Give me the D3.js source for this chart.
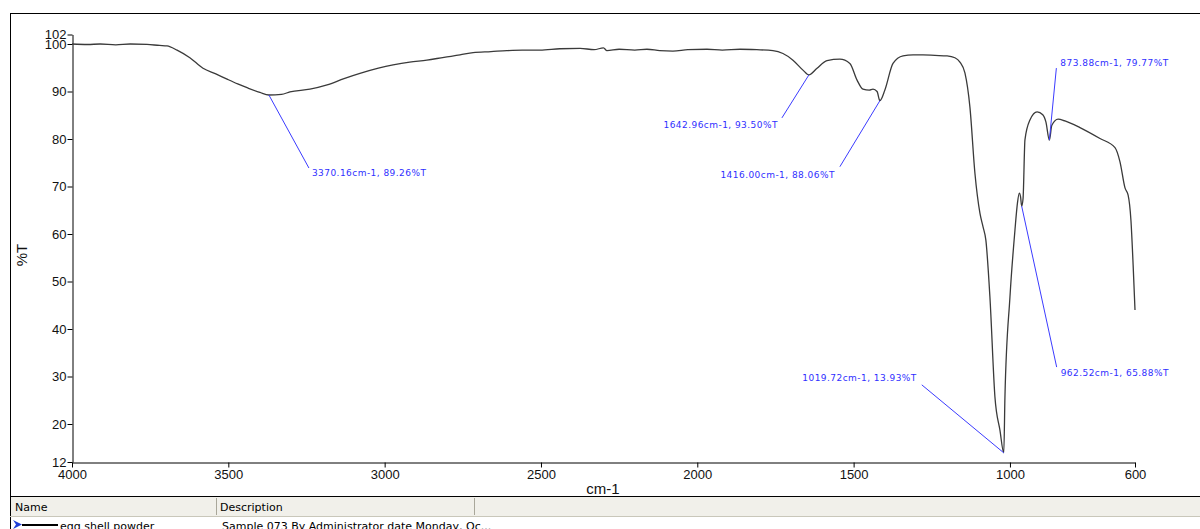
<!DOCTYPE html>
<html>
<head>
<meta charset="utf-8">
<script src="https://cdn.jsdelivr.net/npm/d3@7/dist/d3.min.js"></script>
<style>
  html, body { margin: 0; padding: 0; background: #fff; }
  svg { display: block; }
</style>
</head>
<body>
<svg id="chart" width="1200" height="529"></svg>
<script>
// FTIR spectrum of egg shell powder (% transmittance vs. wavenumber)
const wavenumber = [
  4000, 3950, 3910, 3860, 3814, 3760, 3720, 3696, 3664, 3623, 3581, 3540, 3504, 3470, 3440, 3399,
  3370.16, 3330, 3303, 3239, 3184, 3130, 3079, 3020, 2973, 2920, 2865, 2810, 2759, 2717, 2660,
  2609, 2560, 2503, 2440, 2375, 2330, 2300, 2289, 2250, 2200, 2161, 2120, 2078, 2030, 1969,
  1920, 1863, 1810, 1758, 1726, 1694, 1662, 1642.96, 1617, 1585, 1544, 1512, 1489, 1470,
  1450, 1438, 1425, 1416, 1400, 1374, 1342, 1310, 1278, 1240, 1201, 1176, 1160, 1144, 1128,
  1112, 1096, 1086, 1077, 1064, 1048, 1032, 1019.72, 1016, 1000, 984, 976, 970, 966, 962.52,
  958, 952, 936, 913, 895, 885, 873.88, 866, 846, 824, 776, 712, 664, 648, 632, 622, 613, 606, 600
];
const transmittance = [
  100.0, 99.9, 100.0, 99.8, 100.0, 99.9, 99.7, 99.6, 98.7, 97.1, 94.9, 93.7, 92.6, 91.6, 90.8, 89.8,
  89.26, 89.4, 89.9, 90.5, 91.4, 92.7, 93.8, 94.9, 95.6, 96.2, 96.6, 97.2, 97.7, 98.2, 98.4,
  98.6, 98.7, 98.7, 99.0, 99.1, 98.8, 99.2, 98.6, 98.9, 98.7, 98.9, 98.6, 98.5, 98.8, 98.9,
  98.7, 98.9, 98.8, 98.6, 98.0, 96.6, 94.5, 93.50, 94.9, 96.5, 96.8, 95.9, 92.4, 90.5,
  90.3, 90.5, 90.0, 88.06, 90.3, 95.9, 97.5, 97.7, 97.7, 97.6, 97.5, 97.1, 96.2, 93.9, 86.7,
  72.8, 64.4, 61.5, 58.7, 46.7, 25.7, 18.7, 13.93, 25.7, 46.7, 60.8, 66.5, 68.6, 67.8, 65.88,
  67.5, 79.8, 84.0, 85.7, 85.1, 83.6, 79.77, 82.9, 84.2, 83.8, 82.4, 80.1, 78.2, 75.2, 69.7, 68.2, 62.9, 53.5, 44.0
];

// Labelled peaks
const peakWavenumber = [3370.16, 1642.96, 1416.00, 1019.72, 962.52, 873.88];
const peakTransmittance = [89.26, 93.50, 88.06, 13.93, 65.88, 79.77];

const xTicks = [4000, 3500, 3000, 2500, 2000, 1500, 1000, 600];
const yTicks = [12, 20, 30, 40, 50, 60, 70, 80, 90, 100, 102];

const tableColumns = ["Name", "Description"];
const sampleName = "egg shell powder";
const sampleDescription = "Sample 073 By Administrator date Monday, Oc...";

const svg = d3.select("#chart");
const W = 1200, H = 529;

const x = d3.scaleLinear().domain([4000, 600]).range([72, 1135]);
const y = d3.scaleLinear().domain([12, 102]).range([462, 34.5]);

const axisFont = "'Liberation Sans', Arial, sans-serif";

// outer frame
svg.append("line").attr("x1", 10).attr("x2", W).attr("y1", 13.5).attr("y2", 13.5)
  .attr("stroke", "#000").attr("stroke-width", 1.2);
svg.append("line").attr("x1", 10.5).attr("x2", 10.5).attr("y1", 13).attr("y2", H)
  .attr("stroke", "#000").attr("stroke-width", 1);

// y axis
const yAxis = svg.append("g")
  .attr("transform", "translate(72.5,0)")
  .call(d3.axisLeft(y).tickValues(yTicks).tickFormat(d3.format("d")).tickSize(5).tickSizeOuter(0).tickPadding(1));
yAxis.select(".domain").attr("stroke", "#000");
yAxis.selectAll(".tick line").attr("stroke", "#000");
yAxis.selectAll("text").attr("font-family", axisFont).attr("font-size", 13).attr("fill", "#111");

// x axis
const xAxis = svg.append("g")
  .attr("transform", "translate(0,462.5)")
  .call(d3.axisBottom(x).tickValues(xTicks).tickFormat(d3.format("d")).tickSize(5).tickSizeOuter(0).tickPadding(2));
xAxis.select(".domain").attr("stroke", "#000");
xAxis.selectAll(".tick line").attr("stroke", "#000");
xAxis.selectAll("text").attr("font-family", axisFont).attr("font-size", 13).attr("fill", "#111");

// axis titles
svg.append("text").attr("x", 603).attr("y", 494).attr("text-anchor", "middle")
  .attr("font-family", axisFont).attr("font-size", 15).attr("fill", "#111").text("cm-1");
svg.append("text").attr("transform", "translate(27,255) rotate(-90)").attr("text-anchor", "middle")
  .attr("font-family", axisFont).attr("font-size", 15).attr("fill", "#111").text("%T");

// spectrum
const spectrum = wavenumber.map((w, i) => ({ w, t: transmittance[i] }));
const line = d3.line().x(d => x(d.w)).y(d => y(d.t)).curve(d3.curveMonotoneX);
svg.append("path").datum(spectrum)
  .attr("d", line).attr("fill", "none")
  .attr("stroke", "#3a3a3a").attr("stroke-width", 1.3).attr("stroke-linejoin", "round");

// peak annotations: leader offset and text placement in pixels
const leaderLayout = [
  { lx: 40, ly: 73, anchor: "start", tx: 43, ty: 81 },
  { lx: -27, ly: 43, anchor: "end", tx: -31, ty: 53 },
  { lx: -40, ly: 66, anchor: "end", tx: -45, ty: 77 },
  { lx: -82, ly: -68, anchor: "end", tx: -87, ty: -72 },
  { lx: 35, ly: 161, anchor: "start", tx: 39, ty: 170 },
  { lx: 7, ly: -72, anchor: "start", tx: 11, ty: -74 }
];
const peaks = peakWavenumber.map((w, i) => ({ w, t: peakTransmittance[i], ...leaderLayout[i] }));
const ann = svg.append("g").selectAll("g").data(peaks).join("g")
  .attr("transform", d => `translate(${x(d.w)},${y(d.t)})`);
ann.append("line").attr("x1", 0).attr("y1", 0).attr("x2", d => d.lx).attr("y2", d => d.ly)
  .attr("stroke", "#3b3bff").attr("stroke-width", 1);
ann.append("text").attr("x", d => d.tx).attr("y", d => d.ty).attr("text-anchor", d => d.anchor)
  .attr("font-family", "'DejaVu Sans', Verdana, sans-serif").attr("font-size", 9)
  .attr("letter-spacing", 0.45).attr("fill", "#2f2fff")
  .text(d => `${d.w.toFixed(2)}cm-1, ${d.t.toFixed(2)}%T`);

// sample table below the plot
const table = svg.append("g");
table.append("rect").attr("x", 11).attr("y", 497).attr("width", W - 11).attr("height", 19)
  .attr("fill", "#f1f0ea");
table.append("line").attr("x1", 10).attr("x2", W).attr("y1", 496.5).attr("y2", 496.5).attr("stroke", "#000");
table.append("line").attr("x1", 10).attr("x2", W).attr("y1", 516.5).attr("y2", 516.5).attr("stroke", "#c9c7ba");
const colX = [11, 216, 474];
[colX[1], colX[2]].forEach(cx => {
  table.append("line").attr("x1", cx + 0.5).attr("x2", cx + 0.5).attr("y1", 498).attr("y2", 515)
    .attr("stroke", "#a9a79a");
});
table.selectAll("text.hdr").data(tableColumns).join("text").attr("class", "hdr")
  .attr("x", (d, i) => colX[i] + 4).attr("y", 511)
  .attr("font-family", "Tahoma, 'DejaVu Sans', sans-serif").attr("font-size", 11).attr("fill", "#000")
  .text(d => d);

// sample row: series marker + name + description
table.append("path").attr("d", "M13,520 L22,524.5 L13,529 L16,524.5 Z").attr("fill", "#1f3fd8");
table.append("line").attr("x1", 22).attr("x2", 58).attr("y1", 525).attr("y2", 525)
  .attr("stroke", "#000").attr("stroke-width", 2);
table.append("text").attr("x", 60).attr("y", 530)
  .attr("font-family", "Tahoma, 'DejaVu Sans', sans-serif").attr("font-size", 11).attr("fill", "#000")
  .text(sampleName);
table.append("text").attr("x", 222).attr("y", 530)
  .attr("font-family", "Tahoma, 'DejaVu Sans', sans-serif").attr("font-size", 11).attr("fill", "#000")
  .text(sampleDescription);
</script>
</body>
</html>
